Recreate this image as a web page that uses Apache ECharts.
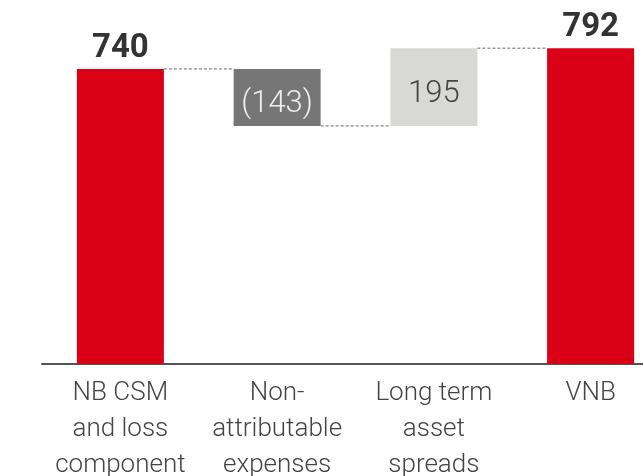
<!DOCTYPE html>
<html>
<head>
<meta charset="utf-8">
<script src="https://cdn.jsdelivr.net/npm/echarts@6/dist/echarts.min.js"></script>
<style>
  html, body { margin: 0; padding: 0; background: #fff; overflow: hidden; }
  #chart { width: 669px; height: 476px; }
</style>
</head>
<body>
<div id="chart"></div>
<script>
const categories = ['NB CSM\nand loss\ncomponent', 'Non-\nattributable\nexpenses', 'Long term\nasset\nspreads', 'VNB']
const changes = [740, -143, 195, 792]
const isTotal = [true, false, false, true]
const colors = ['#da0016', '#767676', '#d8d8d6', '#da0016']

// running totals for the waterfall
const bases = []
const heights = []
const levels = []
let run = 0
changes.forEach((v, i) => {
  if (isTotal[i]) {
    bases.push(0); heights.push(v); run = v
  } else if (v < 0) {
    bases.push(run + v); heights.push(-v); run = run + v
  } else {
    bases.push(run); heights.push(v); run = run + v
  }
  levels.push(run)
})

const labelStyles = [
  { position: 'top', distance: 4, color: '#333', fontSize: 33, fontWeight: 'bold' },
  { position: 'inside', color: '#eeeeee', fontSize: 31, fontWeight: 300, offset: [0, 7] },
  { position: 'inside', color: '#444', fontSize: 31, fontWeight: 300, offset: [0, 7] },
  { position: 'top', distance: 4, color: '#333', fontSize: 33, fontWeight: 'bold' }
]

const chart = echarts.init(document.getElementById('chart'))
chart.setOption({
  animation: false,
  textStyle: { fontFamily: 'Roboto, "Liberation Sans", sans-serif' },
  grid: { left: 42, right: 0, top: 45, bottom: 112, outerBoundsMode: 'none', containLabel: false },
  xAxis: {
    type: 'category', data: categories,
    axisLine: { lineStyle: { color: '#555', width: 2 } },
    axisTick: { show: false },
    axisLabel: { interval: 0, fontSize: 26, lineHeight: 36, color: '#444', fontWeight: 300, margin: 11 }
  },
  yAxis: { type: 'value', min: 0, max: 800, show: false },
  series: [
    {
      type: 'bar', stack: 'w', barWidth: 87, silent: true,
      itemStyle: { color: 'transparent' },
      data: bases
    },
    {
      type: 'bar', stack: 'w', barWidth: 87,
      data: heights.map((h, i) => ({
        value: h,
        itemStyle: { color: colors[i] },
        label: Object.assign({ show: true, formatter: changes[i] < 0 ? '(' + (-changes[i]) + ')' : String(changes[i]) }, labelStyles[i])
      }))
    },
    {
      type: 'custom', z: 1,
      data: levels.slice(0, levels.length - 1).map((l, i) => [i, l]),
      renderItem: (params, api) => {
        const i = api.value(0)
        const p1 = api.coord([i, api.value(1)])
        const p2 = api.coord([i + 1, api.value(1)])
        return {
          type: 'line',
          shape: { x1: p1[0] + 43.5, y1: p1[1], x2: p2[0] - 43.5, y2: p2[1] },
          style: { stroke: '#666', lineWidth: 1, lineDash: [3, 2] }
        }
      }
    }
  ]
})
</script>
</body>
</html>
